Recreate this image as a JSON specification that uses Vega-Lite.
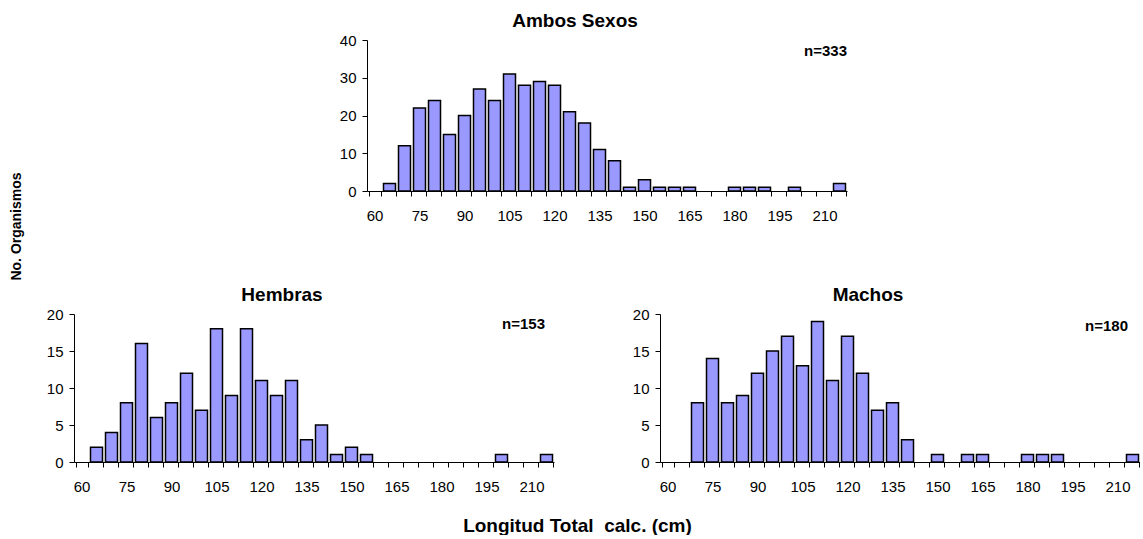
{
  "$schema": "https://vega.github.io/schema/vega-lite/v6.json",
  "background": "white",
  "padding": {"left": 10, "top": 12, "right": 0, "bottom": 0},
  "config": {
    "font": "Liberation Sans",
    "view": {"stroke": null},
    "axis": {
      "labelFont": "Liberation Sans",
      "labelFontSize": 15,
      "labelColor": "black",
      "domainColor": "black",
      "tickColor": "black",
      "grid": false,
      "tickSize": 5,
      "labelOverlap": false,
      "titleFont": "Liberation Sans",
      "titleColor": "black"
    },
    "title": {"font": "Liberation Sans", "fontSize": 19, "fontWeight": "bold", "color": "black"}
  },
  "title": {
    "text": "No. Organismos",
    "orient": "left",
    "anchor": "middle",
    "fontSize": 14,
    "fontWeight": "bold",
    "offset": 22,
    "dx": 47
  },
  "datasets": {
    "conteos": [
      {"grupo": "Ambos Sexos", "lt": 65, "n": 2},
      {"grupo": "Ambos Sexos", "lt": 70, "n": 12},
      {"grupo": "Ambos Sexos", "lt": 75, "n": 22},
      {"grupo": "Ambos Sexos", "lt": 80, "n": 24},
      {"grupo": "Ambos Sexos", "lt": 85, "n": 15},
      {"grupo": "Ambos Sexos", "lt": 90, "n": 20},
      {"grupo": "Ambos Sexos", "lt": 95, "n": 27},
      {"grupo": "Ambos Sexos", "lt": 100, "n": 24},
      {"grupo": "Ambos Sexos", "lt": 105, "n": 31},
      {"grupo": "Ambos Sexos", "lt": 110, "n": 28},
      {"grupo": "Ambos Sexos", "lt": 115, "n": 29},
      {"grupo": "Ambos Sexos", "lt": 120, "n": 28},
      {"grupo": "Ambos Sexos", "lt": 125, "n": 21},
      {"grupo": "Ambos Sexos", "lt": 130, "n": 18},
      {"grupo": "Ambos Sexos", "lt": 135, "n": 11},
      {"grupo": "Ambos Sexos", "lt": 140, "n": 8},
      {"grupo": "Ambos Sexos", "lt": 145, "n": 1},
      {"grupo": "Ambos Sexos", "lt": 150, "n": 3},
      {"grupo": "Ambos Sexos", "lt": 155, "n": 1},
      {"grupo": "Ambos Sexos", "lt": 160, "n": 1},
      {"grupo": "Ambos Sexos", "lt": 165, "n": 1},
      {"grupo": "Ambos Sexos", "lt": 180, "n": 1},
      {"grupo": "Ambos Sexos", "lt": 185, "n": 1},
      {"grupo": "Ambos Sexos", "lt": 190, "n": 1},
      {"grupo": "Ambos Sexos", "lt": 200, "n": 1},
      {"grupo": "Ambos Sexos", "lt": 215, "n": 2},
      {"grupo": "Hembras", "lt": 65, "n": 2},
      {"grupo": "Hembras", "lt": 70, "n": 4},
      {"grupo": "Hembras", "lt": 75, "n": 8},
      {"grupo": "Hembras", "lt": 80, "n": 16},
      {"grupo": "Hembras", "lt": 85, "n": 6},
      {"grupo": "Hembras", "lt": 90, "n": 8},
      {"grupo": "Hembras", "lt": 95, "n": 12},
      {"grupo": "Hembras", "lt": 100, "n": 7},
      {"grupo": "Hembras", "lt": 105, "n": 18},
      {"grupo": "Hembras", "lt": 110, "n": 9},
      {"grupo": "Hembras", "lt": 115, "n": 18},
      {"grupo": "Hembras", "lt": 120, "n": 11},
      {"grupo": "Hembras", "lt": 125, "n": 9},
      {"grupo": "Hembras", "lt": 130, "n": 11},
      {"grupo": "Hembras", "lt": 135, "n": 3},
      {"grupo": "Hembras", "lt": 140, "n": 5},
      {"grupo": "Hembras", "lt": 145, "n": 1},
      {"grupo": "Hembras", "lt": 150, "n": 2},
      {"grupo": "Hembras", "lt": 155, "n": 1},
      {"grupo": "Hembras", "lt": 200, "n": 1},
      {"grupo": "Hembras", "lt": 215, "n": 1},
      {"grupo": "Machos", "lt": 70, "n": 8},
      {"grupo": "Machos", "lt": 75, "n": 14},
      {"grupo": "Machos", "lt": 80, "n": 8},
      {"grupo": "Machos", "lt": 85, "n": 9},
      {"grupo": "Machos", "lt": 90, "n": 12},
      {"grupo": "Machos", "lt": 95, "n": 15},
      {"grupo": "Machos", "lt": 100, "n": 17},
      {"grupo": "Machos", "lt": 105, "n": 13},
      {"grupo": "Machos", "lt": 110, "n": 19},
      {"grupo": "Machos", "lt": 115, "n": 11},
      {"grupo": "Machos", "lt": 120, "n": 17},
      {"grupo": "Machos", "lt": 125, "n": 12},
      {"grupo": "Machos", "lt": 130, "n": 7},
      {"grupo": "Machos", "lt": 135, "n": 8},
      {"grupo": "Machos", "lt": 140, "n": 3},
      {"grupo": "Machos", "lt": 150, "n": 1},
      {"grupo": "Machos", "lt": 160, "n": 1},
      {"grupo": "Machos", "lt": 165, "n": 1},
      {"grupo": "Machos", "lt": 180, "n": 1},
      {"grupo": "Machos", "lt": 185, "n": 1},
      {"grupo": "Machos", "lt": 190, "n": 1},
      {"grupo": "Machos", "lt": 215, "n": 1}
    ],
    "etiquetas": [
      {"grupo": "Ambos Sexos", "texto": "n=333"},
      {"grupo": "Hembras", "texto": "n=153"},
      {"grupo": "Machos", "texto": "n=180"}
    ]
  },
  "spacing": 63,
  "vconcat": [
    {
      "bounds": "flush",
      "spacing": 0,
      "hconcat": [
        {
          "width": 293,
          "height": 10,
          "data": {"values": [{}]},
          "mark": {"type": "text", "text": ""}
        },
        {
          "width": 480,
          "height": 151,
          "title": {"text": "Ambos Sexos", "frame": "group", "anchor": "middle", "dx": -32, "offset": -13, "baseline": "alphabetic"},
          "layer": [
            {
              "data": {"name": "conteos"},
              "transform": [{"filter": "datum.grupo === 'Ambos Sexos'"}],
              "mark": {"type": "bar", "fill": "#9999FF", "stroke": "black", "strokeWidth": 1.5},
              "encoding": {
                "x": {
                  "field": "lt", "type": "ordinal",
                  "scale": {"domain": [60,65,70,75,80,85,90,95,100,105,110,115,120,125,130,135,140,145,150,155,160,165,170,175,180,185,190,195,200,205,210,215], "paddingInner": 0.2, "paddingOuter": 0.1},
                  "axis": {"title": null, "labelAngle": 0, "tickBand": "extent", "labelPadding": 12, "labelExpr": "datum.value % 15 === 0 ? datum.label : ''"}
                },
                "y": {
                  "field": "n", "type": "quantitative",
                  "scale": {"domain": [0, 40], "nice": false},
                  "axis": {"title": null, "values": [0, 10, 20, 30, 40], "labelPadding": 6}
                }
              }
            },
            {
              "data": {"name": "etiquetas"},
              "transform": [{"filter": "datum.grupo === 'Ambos Sexos'"}],
              "mark": {"type": "text", "align": "right", "baseline": "alphabetic", "fontWeight": "bold", "fontSize": 15, "dx": 7.5, "color": "black"},
              "encoding": {
                "x": {"datum": 215, "type": "ordinal"},
                "y": {"datum": 35.8, "type": "quantitative", "axis": {"title": null, "values": [0, 10, 20, 30, 40], "labelPadding": 6}},
                "text": {"field": "texto"}
              }
            }
          ]
        }
      ]
    },
    {
      "bounds": "flush",
      "spacing": 106,
      "hconcat": [
        {
          "width": 480,
          "height": 148,
          "title": {"text": "Hembras", "frame": "group", "anchor": "middle", "dx": -32, "offset": -13, "baseline": "alphabetic"},
          "layer": [
            {
              "data": {"name": "conteos"},
              "transform": [{"filter": "datum.grupo === 'Hembras'"}],
              "mark": {"type": "bar", "fill": "#9999FF", "stroke": "black", "strokeWidth": 1.5},
              "encoding": {
                "x": {
                  "field": "lt", "type": "ordinal",
                  "scale": {"domain": [60,65,70,75,80,85,90,95,100,105,110,115,120,125,130,135,140,145,150,155,160,165,170,175,180,185,190,195,200,205,210,215], "paddingInner": 0.2, "paddingOuter": 0.1},
                  "axis": {
                    "title": "Longitud Total \u00a0calc. (cm)",
                    "titleFontSize": 19, "titleFontWeight": "bold",
                    "titleX": 503, "titleY": 69, "titleAlign": "center", "titleBaseline": "alphabetic", "titleAnchor": null,
                    "labelAngle": 0, "tickBand": "extent", "labelPadding": 12, "labelExpr": "datum.value % 15 === 0 ? datum.label : ''"
                  }
                },
                "y": {
                  "field": "n", "type": "quantitative",
                  "scale": {"domain": [0, 20], "nice": false},
                  "axis": {"title": null, "values": [0, 5, 10, 15, 20], "labelPadding": 6}
                }
              }
            },
            {
              "data": {"name": "etiquetas"},
              "transform": [{"filter": "datum.grupo === 'Hembras'"}],
              "mark": {"type": "text", "align": "right", "baseline": "alphabetic", "fontWeight": "bold", "fontSize": 15, "dx": -1.5, "color": "black"},
              "encoding": {
                "x": {"datum": 215, "type": "ordinal"},
                "y": {"datum": 18, "type": "quantitative", "axis": {"title": null, "values": [0, 5, 10, 15, 20], "labelPadding": 6}},
                "text": {"field": "texto"}
              }
            }
          ]
        },
        {
          "width": 480,
          "height": 148,
          "title": {"text": "Machos", "frame": "group", "anchor": "middle", "dx": -32, "offset": -13, "baseline": "alphabetic"},
          "layer": [
            {
              "data": {"name": "conteos"},
              "transform": [{"filter": "datum.grupo === 'Machos'"}],
              "mark": {"type": "bar", "fill": "#9999FF", "stroke": "black", "strokeWidth": 1.5},
              "encoding": {
                "x": {
                  "field": "lt", "type": "ordinal",
                  "scale": {"domain": [60,65,70,75,80,85,90,95,100,105,110,115,120,125,130,135,140,145,150,155,160,165,170,175,180,185,190,195,200,205,210,215], "paddingInner": 0.2, "paddingOuter": 0.1},
                  "axis": {"title": null, "labelAngle": 0, "tickBand": "extent", "labelPadding": 12, "labelExpr": "datum.value % 15 === 0 ? datum.label : ''"}
                },
                "y": {
                  "field": "n", "type": "quantitative",
                  "scale": {"domain": [0, 20], "nice": false},
                  "axis": {"title": null, "values": [0, 5, 10, 15, 20], "labelPadding": 6}
                }
              }
            },
            {
              "data": {"name": "etiquetas"},
              "transform": [{"filter": "datum.grupo === 'Machos'"}],
              "mark": {"type": "text", "align": "right", "baseline": "alphabetic", "fontWeight": "bold", "fontSize": 15, "dx": -4.5, "color": "black"},
              "encoding": {
                "x": {"datum": 215, "type": "ordinal"},
                "y": {"datum": 17.7, "type": "quantitative", "axis": {"title": null, "values": [0, 5, 10, 15, 20], "labelPadding": 6}},
                "text": {"field": "texto"}
              }
            }
          ]
        }
      ]
    }
  ]
}
